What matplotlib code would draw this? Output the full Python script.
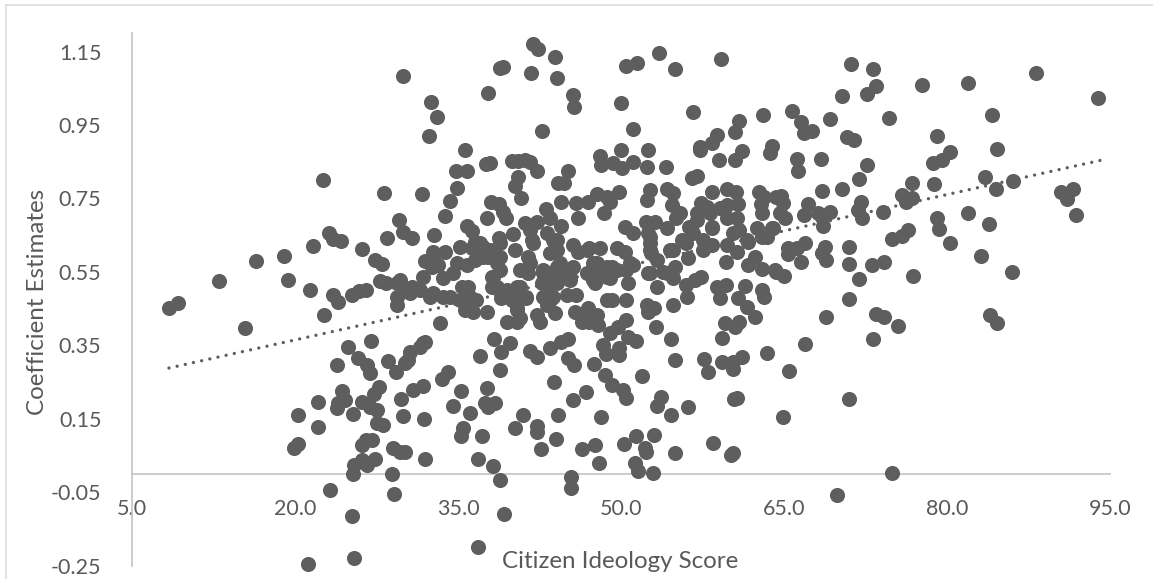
#!/usr/bin/env python
# Coefficient estimates against citizen ideology score, with dotted trend line
import matplotlib
matplotlib.use('Agg')
import matplotlib.pyplot as plt
from matplotlib.lines import Line2D
import numpy as np

###### INPUT DATA ##########
# (score, estimate), one list per part of the cloud
left_cloud = [(8.4,.451),(9.2,.465),(13,.525),(15.4,.397),(16.4,.58),(19,.593),(19.4,.528),(21.4,.5),
    (21.7,.62),(22.6,.8),(22.7,.432),(23.1,.656),(23.5,.64),(24.2,.634),(23.5,.487),(24,.468),(25.2,.487),
    (25.9,.497),(26.5,.5),(26.2,.612),(27.4,.582),(28,.571),(27.8,.525),(28.4,.52),(29.4,.52),(28.2,.765),
    (28.5,.642),(29.6,.691),(29.9,.659),(30.8,.642),(29.4,.482),(29.4,.46),(29.7,.528),(30.8,.509),
    (29.9,1.084),(32.5,1.013),(33.1,.972),(32.3,.92),(31.7,.762),(32.8,.65),(33.8,.702),(34.3,.743),
    (34.9,.778),(34.8,.825),(35.8,.825),(35.6,.882),(30.6,.492),(32.4,.482),(33.6,.482),(35.2,.473),
    (36.1,.482),(36.7,.473),(35.6,.446),(36.4,.441),(37.7,.441),(33.3,.41),(35.8,.5),(36.4,.473),(32.7,.492),
    (31.5,.5),(34.3,.482),(30.1,.505),(32.7,.582)]

low_left = [(24.9,.345),(27,.362),(23.9,.296),(25.8,.315),(26.6,.296),(26.9,.274),(28.6,.307),(29.3,.277),
    (27.7,.236),(27.3,.217),(24.3,.225),(24.6,.201),(24,.193),(23.9,.179),(22.1,.195),(26.2,.195),(26.9,.182),
    (27.5,.174),(25.3,.163),(29.8,.204),(29.9,.157),(20.3,.16),(22.1,.127),(27.5,.138),(28.1,.133),(20.3,.081),
    (19.9,.07),(27.1,.092),(26.5,.092),(26.2,.078),(29,.07),(29.7,.059),(27.4,.04),(26.6,.024),(26.2,.037),
    (25.4,.024),(25.3,0),(28.9,0),(23.2,-.044),(29.1,-.055),(25.2,-.115),(25.4,-.23),(21.2,-.246),
    (31.8,.356),(32,.359),(31.5,.345),(30.6,.331),(30.4,.31),(30.1,.301),(33.5,.258),(34.1,.277),(31.8,.239),
    (30.9,.228),(31.9,.149),(30.1,.059),(32,.04)]

top_cloud = [(37.6,.844),(37.9,.847),(37.8,1.037),(38.9,1.105),(39.1,1.108),(41.7,1.092),(41.9,1.171),
    (42.4,1.157),(43.9,1.135),(44.1,1.078),(45.6,1.032),(45.7,.999),(42.7,.934),(40,.852),(40.5,.852),
    (41.2,.855),(41.6,.85),(42.3,.825),(40.5,.808),(40.2,.784),(40.8,.751),(38,.74),(38.8,.735),(39.1,.713),
    (39.4,.697),(37.7,.697),(35.8,.675),(36.3,.661),(36.6,.631),(38.8,.642),(40.1,.653),(41.2,.683),(42.3,.686),
    (43.1,.721),(43.5,.697),(44.5,.675),(45.1,.825),(44.2,.792),(44.8,.792),(44.5,.74),(45.9,.738),(47,.74),
    (47.8,.762),(48.7,.754),(49,.74),(49.8,.768),(48.4,.71),(46,.697),(48.1,.866),(48.2,.841),(49.3,.847),
    (50.1,.833),(51.1,.85),(52.4,.836),(50,.882),(52.5,.882),(54.1,.836),(50,1.01),(51.1,.938),(50.5,1.111),
    (51.5,1.119),(53.5,1.146),(55,1.104),(59.2,1.13),(56.6,.985),(63.1,.977),(60.9,.96),(60.5,.93),(58.8,.923),
    (58.4,.9),(57.3,.89),(57.3,.882),(59,.855),(61.1,.879),(60.5,.855),(63.9,.893),(63.7,.874),(57,.811),
    (56.5,.805),(58.4,.768),(59.8,.776),(60.6,.768),(57.4,.738),(60.8,.735),(62.7,.768),(63.2,.754),(62.9,.735),
    (64.3,.754),(52.7,.773),(52.4,.745),(54.2,.776),(54.8,.765),(54.7,.732),(55.1,.697)]

center_cloud = [(50.4,.672),(51.1,.656),(52.3,.686),(53.1,.686),(52.5,.656),(52.7,.629),(52.8,.601),(53.3,.582),
    (54.2,.669),(55.6,.637),(54.8,.61),(56.2,.587),(57.5,.61),(58.4,.623),(59.8,.623),(60.7,.604),(59.7,.577),
    (62.3,.59),(61.7,.569),(63,.558),(64.3,.55),(56.3,.672),(57,.71),(57.9,.727),(58.4,.669),(59.1,.724),(59.8,.732),
    (59.8,.697),(60.7,.697),(60.9,.664),(61.7,.631),(62.5,.669),(63.4,.645),(63,.71),(64,.669),(52.5,.547),(54.2,.547),
    (54.8,.533),(55,.563),(53.3,.509),(50.6,.52),(57.4,.536),(56.8,.528),(56,.514),(58.8,.509),(59.7,.514),(61.4,.511),
    (63,.5),(32.7,.604),(33.8,.604),(32,.58),(33.2,.569),(32.6,.563),(35.2,.618),(34.9,.574),(35.8,.569),(31.8,.536),
    (33.6,.533),(34.5,.547),(36.3,.615),(37.3,.618),(37.8,.59),(38.9,.59),(40.2,.61),(41.4,.59),(40.7,.555),(41.4,.547),
    (38.1,.536),(38.9,.555),(36.6,.582),(42.8,.555),(43.5,.536),(41.8,.637),(41.6,.664),(43.7,.637),(44.1,.61),(43.5,.601),
    (44.4,.574),(45.3,.555),(44.7,.536),(45.6,.623),(46,.604),(47.1,.615),(48.1,.615),(49.6,.615),(50.4,.604),(47.8,.574),
    (48.7,.563),(46.9,.547),(49.6,.555),(51.1,.569),(50.5,.555),(47.6,.52),(49,.533),(35.4,.509),(35.9,.509),(42.7,.52),
    (44.1,.52),(45.3,.528),(40.4,.509),(38.1,.509)]

dense_band = [(37.9,.61),(38.6,.574),(38.2,.536),(38.6,.509),(37.3,.59),(37,.628),(38.9,.628),(40.4,.492),(40,.473),
    (41.3,.482),(40.4,.446),(41.6,.574),(41.9,.628),(43.2,.656),(44.1,.637),(42.8,.547),(43.2,.509),(43.5,.473),
    (44.1,.563),(40.7,.509),(39.5,.5),(46.9,.61),(47.4,.574),(45.6,.563),(45.3,.536),(47.4,.528),(52.7,.645),(52.7,.61),
    (57,.691),(56.6,.656),(57.5,.637),(56,.628),(58.4,.672),(58.2,.71),(55.4,.71),(49.2,.563),(48.1,.547),(50.8,.574),
    (48.7,.536),(54.5,.61),(53.9,.55),(52.7,.547),(60.3,.656),(61.6,.637),(63,.645)]

mid_cloud = [(38.3,.367),(39.8,.356),(39,.331),(41.6,.334),(42.3,.318),(43.5,.342),(44.5,.359),(45.1,.367),(45.1,.315),
    (45.7,.296),(47.5,.299),(48.3,.351),(48.6,.326),(49.8,.324),(49.8,.342),(50.6,.372),(51.4,.362),(49,.383),(49.7,.4),
    (50.5,.419),(53.2,.4),(54.6,.367),(55,.31),(51.9,.266),(48.5,.269),(49.2,.242),(50.2,.228),(50.5,.206),(46.8,.223),
    (45.6,.201),(43.8,.25),(44.2,.16),(41,.16),(40.2,.125),(42.3,.13),(42.3,.114),(44,.095),(42.6,.067),(48.2,.154),
    (46.4,.067),(47.6,.078),(48,.029),(45.4,-.009),(45.4,-.039),(50.3,.081),(51.4,.103),(53,.105),(52.2,.07),(52.3,.059),
    (51.3,.029),(51.6,.007),(52.9,.002),(55,.056),(53.7,.209),(53.3,.185),(54.6,.16),(56.2,.182),(58.5,.084),(60.3,.056),
    (60.1,.051),(60.7,.206),(60.4,.204),(63.4,.329),(57.6,.312),(58,.277),(59.3,.304),(60.3,.304),(61.1,.318),
    (60.3,.285),(59.3,.37),(59.6,.41),(60.5,.4),(60.9,.413),(62.3,.427),(61.6,.454),(60.8,.478),(59.1,.478),(63.2,.482),
    (56.1,.482),(54.8,.46),(52.4,.46),(53,.451),(52.5,.441),(50.5,.473),(48.7,.473),(49.2,.473),(45.9,.487),(45,.487),
    (45.8,.441),(46.4,.427),(47,.451),(47.8,.433),(47.9,.405),(46.4,.413),(47.1,.413),(42.3,.433),(42.5,.413),(43.9,.438),
    (39.5,.413),(40.4,.413),(40.7,.424),(40.4,.451),(39,.479),(40.2,.479),(41.3,.479),(42.8,.482),(43.7,.482),(43.2,.46),
    (37,.32),(38.9,.282),(35.3,.225),(34.5,.184),(37.7,.233),(37.5,.193),(38.4,.193),(37.8,.182),(36.1,.165),(35.5,.125),
    (35.3,.103),(37.2,.103),(36.8,.04),(38.2,.021),(38.9,-.017),(39.2,-.11),(36.8,-.2)]

right_cloud = [(71.2,1.116),(73.2,1.103),(73.5,1.056),(72.6,1.035),(70.3,1.03),(77.7,1.06),(81.9,1.065),(88.2,1.092),
    (93.9,1.024),(65.7,.988),(66.6,.958),(67.6,.934),(66.8,.928),(69.2,.966),(74.7,.969),(70.8,.917),(71.4,.909),(84.1,.977),
    (79.1,.92),(80.3,.877),(79.5,.855),(78.7,.847),(84.6,.884),(66.2,.857),(66.3,.825),(68.4,.857),(72.6,.841),(71.9,.803),
    (68.5,.77),(70.3,.775),(76.8,.792),(78.8,.79),(83.5,.808),(86.1,.797),(84.5,.775),(75.9,.759),(76.8,.751),(76.2,.74),
    (64.7,.757),(64.9,.738),(64.6,.71),(65.1,.697),(63.9,.669),(67.2,.735),(66.8,.705),(68.1,.71),(69.2,.713),(68.5,.7),
    (68.6,.675),(72.1,.74),(71.8,.719),(72.2,.697),(74.1,.713),(90.5,.768),(91.6,.776),(91,.749),(91.9,.705),(81.9,.71),
    (79.1,.697),(79.3,.667),(83.9,.68),(80.3,.628),(83.1,.593),(86,.55),(76.4,.664),(75.9,.648),(74.9,.64),(65.4,.615),
    (66.9,.628),(65.4,.599),(66.2,.615),(66.6,.577),(68.8,.618),(68.5,.601),(68.9,.582),(71,.618),(71,.571),(71.9,.531),
    (73.1,.569),(74.2,.577),(76.9,.538),(64.2,.555),(65,.538),(71,.476),(68.9,.427),(73.5,.435),(74.2,.427),(75.5,.402),
    (73.2,.367),(66.9,.353),(65.5,.28),(71,.204),(64.9,.155),(74.9,.002),(69.9,-.058),(84,.433),(84.6,.41)]

trend_x = [8.4, 94.6]
trend_y = [.288, .857]

x_ticks = [5, 20, 35, 50, 65, 80, 95]
y_ticks = [-0.25, -0.05, 0.15, 0.35, 0.55, 0.75, 0.95, 1.15]
#########################

W, H = 1153, 579
GREY = '#5e5e5e'
TEXT = '#595959'
AXIS = '#c4c4c4'

plt.rcParams['font.family'] = ['Lato', 'DejaVu Sans']

fig = plt.figure(figsize=(W / 100, H / 100), dpi=100)
ax = fig.add_axes([132 / W, 1 - 565.5 / H, 978 / W, 532.2 / H])
ax.patch.set_alpha(0)

points = np.array(left_cloud + low_left + top_cloud + center_cloud + dense_band + mid_cloud + right_cloud)
ax.scatter(points[:, 0], points[:, 1], s=118, color=GREY, linewidths=0, clip_on=False, zorder=3)
ax.plot(trend_x, trend_y, color=GREY, lw=2.4, dash_capstyle='round',
        linestyle=(0, (0.01, 2.5)), zorder=2)

ax.set_xlim(5, 95)
ax.set_ylim(-0.25, 1.2)
ax.set_xticks(x_ticks)
ax.set_xticklabels(['%.1f' % v for v in x_ticks])
ax.set_yticks(y_ticks)
ax.set_yticklabels(['%.2f' % v for v in y_ticks])
ax.tick_params(length=0, labelsize=15.5, labelcolor=TEXT)
ax.tick_params(axis='x', pad=18)
ax.tick_params(axis='y', pad=22)

for side in ['top', 'right']:
    ax.spines[side].set_visible(False)
ax.spines['bottom'].set_position(('data', 0))
for side in ['left', 'bottom']:
    ax.spines[side].set_color(AXIS)
    ax.spines[side].set_linewidth(1.2)

fig.text(620 / W, 1 - 561 / H, 'Citizen Ideology Score', color=TEXT, fontsize=17.4, ha='center', va='center')
fig.text(38 / W, 1 - 302 / H, 'Coefficient Estimates', color=TEXT, fontsize=17.4, ha='center', va='center',
         rotation=90)

# chart border, runs off the bottom and right of the image
for xs, ys in [([6, 6], [5, 579]), ([6, 1153], [5, 5])]:
    fig.add_artist(Line2D([v / W for v in xs], [1 - v / H for v in ys], color='#dddddd', lw=1.2))

fig.savefig('out.png', dpi=100)
